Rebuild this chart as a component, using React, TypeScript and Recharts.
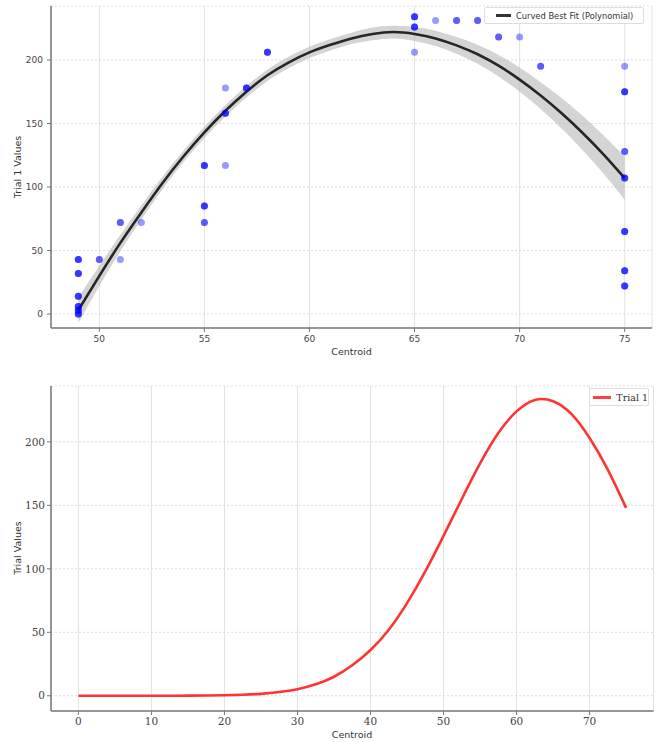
import React from "react";
import {
  ComposedChart,
  LineChart,
  Line,
  Area,
  Scatter,
  XAxis,
  YAxis,
  CartesianGrid,
} from "recharts";

// ---------- Top chart data ----------
// scatter observations (centroid, trial 1 value, number of overlapping points)
const scatterCentroids = [
  49, 49, 49, 49, 49, 49, 50, 51, 51, 52, 55, 55, 55, 56, 56, 56, 57, 58, 65, 65, 65, 66, 67, 68,
  69, 70, 71, 75, 75, 75, 75, 75, 75, 75,
];
const scatterValues = [
  43, 32, 14, 6, 3, 0, 43, 72, 43, 72, 117, 85, 72, 117, 158, 178, 178, 206, 234, 226, 206, 231,
  231, 231, 218, 218, 195, 195, 175, 128, 107, 65, 34, 22,
];
const scatterCounts = [
  3, 3, 3, 3, 3, 3, 2, 2, 1, 1, 3, 3, 2, 1, 3, 1, 3, 3, 3, 3, 1, 1, 2, 2, 2, 1, 2, 1, 3, 2, 3, 3,
  3, 3,
];

// polynomial best-fit curve with its confidence band
const fitCentroids = [
  49, 50, 51, 52, 53, 54, 55, 56, 57, 58, 59, 60, 61, 62, 63, 64, 65, 66, 67, 68, 69, 70, 71, 72,
  73, 74, 75,
];
const fitValues = [
  3, 30, 56, 80, 103, 124, 143, 160, 175, 188, 198, 206, 212, 217, 220.5, 222, 220.5, 217, 211.5,
  204.5, 195.5, 184.5, 172, 158, 142.5, 125.5, 107,
];
const bandLower = [
  -7, 22, 49.5, 74.5, 98, 119.5, 138.5, 155.5, 170.5, 183.5, 193.5, 201.5, 207.5, 212.5, 215.5,
  217, 215, 211, 205, 197, 187, 175, 161.5, 146, 129, 110.5, 90,
];
const bandUpper = [
  13, 38, 62.5, 85.5, 108, 128.5, 147.5, 164.5, 179.5, 192.5, 202.5, 210.5, 216.5, 221.5, 225.5,
  227, 226, 223, 218, 212, 204, 194, 182.5, 170, 156, 140.5, 124,
];
const topXTicks = [50, 55, 60, 65, 70, 75];
const topYTicks = [0, 50, 100, 150, 200];

// ---------- Bottom chart data ----------
const trialCentroids = [
  0, 2.5, 5, 7.5, 10, 12.5, 15, 17.5, 20, 22.5, 25, 27.5, 30, 32.5, 35, 37.5, 40, 42.5, 45, 47.5,
  50, 52.5, 55, 57.5, 60, 62.5, 65, 67.5, 70, 72.5, 75,
];
const trialValues = [
  0, 0, 0, 0, 0, 0, 0.1, 0.2, 0.4, 0.8, 1.5, 2.9, 5.2, 9, 15, 24, 36, 52, 73, 98, 126, 155, 183,
  207, 224, 233, 232, 222, 203, 178, 148,
];
const bottomXTicks = [0, 10, 20, 30, 40, 50, 60, 70];
const bottomYTicks = [0, 50, 100, 150, 200];

const scatterData: { x: number; y: number }[] = [];
scatterCentroids.forEach((c, i) => {
  for (let k = 0; k < scatterCounts[i]; k++) scatterData.push({ x: c, y: scatterValues[i] });
});
const fitData = fitCentroids.map((c, i) => ({
  x: c,
  fit: fitValues[i],
  band: [bandLower[i], bandUpper[i]],
}));
const trialData = trialCentroids.map((c, i) => ({ x: c, v: trialValues[i] }));

const SANS = "'DejaVu Sans', sans-serif";
const SERIF = "'DejaVu Serif', 'Liberation Serif', serif";
const SPINE = "#777";
const TXT = "#444";

const Dot = (p: any) => (
  <circle cx={p.cx} cy={p.cy} r={3.5} fill="#0000ff" fillOpacity={0.4} stroke="none" />
);

export default function App() {
  return (
    <div
      style={{
        position: "absolute",
        left: 0,
        top: 0,
        width: 656,
        height: 742,
        background: "#fff",
        overflow: "hidden",
      }}
    >
      {/* Top chart */}
      <div style={{ position: "absolute", left: 0, top: 0 }}>
        <ComposedChart
          width={656}
          height={360}
          data={fitData}
          margin={{ top: 6, right: 4, bottom: 12, left: 0 }}
        >
          <CartesianGrid horizontal={false} stroke="#e2e2e2" strokeWidth={1} />
          <CartesianGrid vertical={false} stroke="#dcdcdc" strokeDasharray="2 2" strokeWidth={1} />
          <XAxis
            type="number"
            dataKey="x"
            domain={[47.7, 76.3]}
            ticks={topXTicks}
            allowDataOverflow
            height={20}
            tickSize={4}
            tickMargin={4}
            stroke={SPINE}
            axisLine={{ stroke: SPINE, strokeWidth: 1.5 }}
            tick={{ fontSize: 9, fill: TXT, fontFamily: SANS }}
          />
          <YAxis
            type="number"
            domain={[-11, 242.5]}
            ticks={topYTicks}
            allowDataOverflow
            width={51}
            tickSize={4}
            tickMargin={4}
            stroke={SPINE}
            axisLine={{ stroke: SPINE, strokeWidth: 1.5 }}
            tick={{ fontSize: 9, fill: TXT, fontFamily: SANS }}
          />
          <YAxis
            yAxisId="frame"
            orientation="right"
            width={0}
            tick={false}
            tickLine={false}
            axisLine={{ stroke: "#bbb", strokeWidth: 1 }}
          />
          <Area
            type="natural"
            dataKey="band"
            stroke="none"
            fill="#b8b8b8"
            fillOpacity={0.6}
            isAnimationActive={false}
            activeDot={false}
          />
          <Line
            type="natural"
            dataKey="fit"
            stroke="#262626"
            strokeWidth={2.6}
            dot={false}
            isAnimationActive={false}
          />
          <Scatter data={scatterData} dataKey="y" shape={Dot} isAnimationActive={false} />
        </ComposedChart>
      </div>

      {/* Top labels */}
      <div
        style={{
          position: "absolute",
          left: 0,
          top: 346,
          width: 703,
          textAlign: "center",
          fontFamily: SANS,
          fontSize: 9.5,
          color: "#333",
        }}
      >
        Centroid
      </div>
      <div
        style={{
          position: "absolute",
          left: 17,
          top: 167,
          transform: "translate(-50%, -50%) rotate(-90deg)",
          whiteSpace: "nowrap",
          fontFamily: SANS,
          fontSize: 9.5,
          color: "#333",
        }}
      >
        Trial 1 Values
      </div>
      {/* Top legend */}
      <div
        style={{
          position: "absolute",
          left: 484,
          top: 7,
          width: 160,
          height: 17,
          border: "1px solid #ddd",
          borderRadius: 2,
          background: "rgba(255,255,255,0.85)",
          boxSizing: "border-box",
          display: "flex",
          alignItems: "center",
          fontFamily: SANS,
          fontSize: 8.3,
          color: "#333",
          whiteSpace: "nowrap",
        }}
      >
        <span
          style={{
            display: "inline-block",
            width: 15,
            height: 3,
            background: "#333",
            marginLeft: 11,
            marginRight: 5,
          }}
        />
        Curved Best Fit (Polynomial)
      </div>

      {/* Bottom chart */}
      <div style={{ position: "absolute", left: 0, top: 360 }}>
        <LineChart
          width={656}
          height={382}
          data={trialData}
          margin={{ top: 26, right: 2.5, bottom: 11, left: 0 }}
        >
          <CartesianGrid horizontal={false} stroke="#e2e2e2" strokeWidth={1} />
          <CartesianGrid vertical={false} stroke="#dcdcdc" strokeDasharray="2 2" strokeWidth={1} />
          <XAxis
            type="number"
            dataKey="x"
            domain={[-3.75, 78.75]}
            ticks={bottomXTicks}
            allowDataOverflow
            height={20}
            tickSize={4}
            tickMargin={3}
            stroke={SPINE}
            axisLine={{ stroke: SPINE, strokeWidth: 1.5 }}
            tick={{ fontSize: 10.5, fill: TXT, fontFamily: SERIF }}
          />
          <YAxis
            type="number"
            domain={[-12, 244]}
            ticks={bottomYTicks}
            allowDataOverflow
            width={51}
            tickSize={4}
            tickMargin={2}
            stroke={SPINE}
            axisLine={{ stroke: SPINE, strokeWidth: 1.5 }}
            tick={{ fontSize: 10.5, fill: TXT, fontFamily: SERIF }}
          />
          <YAxis
            yAxisId="frame"
            orientation="right"
            width={0}
            tick={false}
            tickLine={false}
            axisLine={{ stroke: "#999", strokeWidth: 1.5 }}
          />
          <Line
            type="natural"
            dataKey="v"
            stroke="#ff3333"
            strokeWidth={2.6}
            dot={false}
            isAnimationActive={false}
          />
        </LineChart>
      </div>

      {/* Bottom labels */}
      <div
        style={{
          position: "absolute",
          left: 0,
          top: 729,
          width: 704,
          textAlign: "center",
          fontFamily: SANS,
          fontSize: 9.5,
          color: "#333",
        }}
      >
        Centroid
      </div>
      <div
        style={{
          position: "absolute",
          left: 17,
          top: 548,
          transform: "translate(-50%, -50%) rotate(-90deg)",
          whiteSpace: "nowrap",
          fontFamily: SANS,
          fontSize: 9.5,
          color: "#333",
        }}
      >
        Trial Values
      </div>
      {/* Bottom legend */}
      <div
        style={{
          position: "absolute",
          left: 589,
          top: 388,
          width: 60,
          height: 18,
          border: "1px solid #ddd",
          borderRadius: 2,
          background: "rgba(255,255,255,0.85)",
          boxSizing: "border-box",
          display: "flex",
          alignItems: "center",
          fontFamily: SERIF,
          fontSize: 9.5,
          color: "#333",
          whiteSpace: "nowrap",
        }}
      >
        <span
          style={{
            display: "inline-block",
            width: 20,
            height: 3,
            background: "#ff4040",
            marginLeft: 3,
            marginRight: 5,
          }}
        />
        Trial 1
      </div>
    </div>
  );
}
